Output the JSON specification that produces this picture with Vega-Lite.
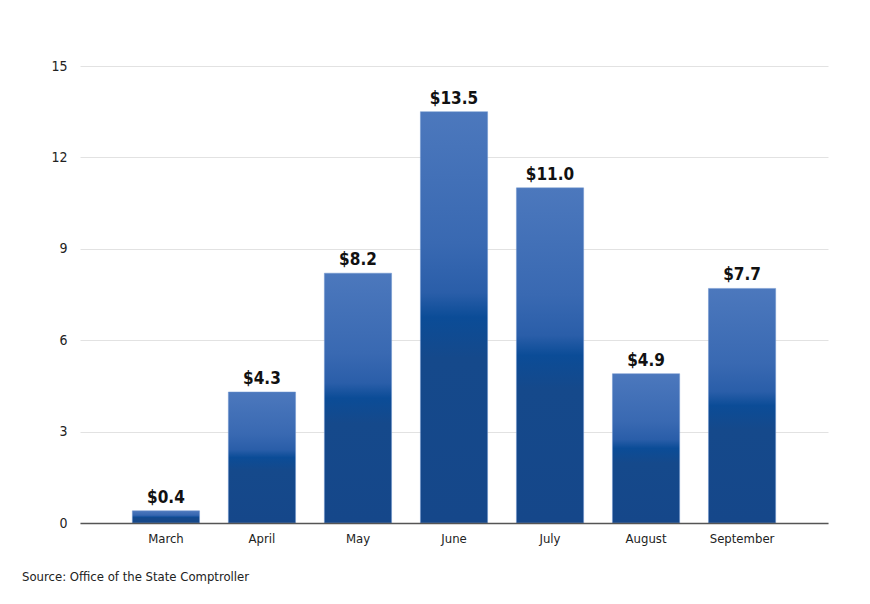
{
  "$schema": "https://vega.github.io/schema/vega-lite/v6.json",
  "width": 748,
  "height": 457,
  "autosize": {"type": "none"},
  "padding": {"left": 80, "top": 66, "right": 42, "bottom": 81},
  "background": "#ffffff",
  "config": {"view": {"stroke": null}},
  "title": {
    "text": "Source: Office of the State Comptroller",
    "orient": "bottom",
    "anchor": "start",
    "frame": "group",
    "dx": -58,
    "offset": 26,
    "font": "DejaVu Sans Condensed, Liberation Sans, sans-serif",
    "fontSize": 13,
    "fontWeight": "normal",
    "color": "#222222"
  },
  "data": {
    "values": [
      {"month": "March", "value": 0.4, "label": "$0.4"},
      {"month": "April", "value": 4.3, "label": "$4.3"},
      {"month": "May", "value": 8.2, "label": "$8.2"},
      {"month": "June", "value": 13.5, "label": "$13.5"},
      {"month": "July", "value": 11.0, "label": "$11.0"},
      {"month": "August", "value": 4.9, "label": "$4.9"},
      {"month": "September", "value": 7.7, "label": "$7.7"}
    ]
  },
  "encoding": {
    "x": {
      "field": "month",
      "type": "nominal",
      "sort": null,
      "scale": {"paddingInner": 0.3, "paddingOuter": 0.545},
      "axis": {
        "title": null,
        "labelAngle": 0,
        "ticks": false,
        "labelPadding": 9,
        "labelFont": "DejaVu Sans Condensed, Liberation Sans, sans-serif",
        "labelFontSize": 13,
        "labelColor": "#222222",
        "domainColor": "#555555",
        "domainWidth": 1.5,
        "zindex": 1
      }
    },
    "y": {
      "field": "value",
      "type": "quantitative",
      "scale": {"domain": [0, 15]},
      "axis": {
        "title": null,
        "values": [0, 3, 6, 9, 12, 15],
        "ticks": false,
        "domain": false,
        "labelPadding": 13,
        "labelFont": "DejaVu Sans Condensed, Liberation Sans, sans-serif",
        "labelFontSize": 14,
        "labelColor": "#222222",
        "gridColor": "#e2e2e2",
        "gridWidth": 1
      }
    }
  },
  "layer": [
    {
      "mark": {
        "type": "bar",
        "stroke": "#6e95cf",
        "strokeWidth": 0.5,
        "color": {
          "gradient": "linear",
          "x1": 0, "y1": 0, "x2": 0, "y2": 1,
          "stops": [
            {"offset": 0, "color": "#4c78bd"},
            {"offset": 0.32, "color": "#3969b2"},
            {"offset": 0.44, "color": "#2a5ea9"},
            {"offset": 0.5, "color": "#0b4c97"},
            {"offset": 0.6, "color": "#15498b"},
            {"offset": 1, "color": "#15478a"}
          ]
        }
      }
    },
    {
      "mark": {
        "type": "text",
        "baseline": "bottom",
        "dy": -4,
        "font": "DejaVu Sans Condensed, Liberation Sans, sans-serif",
        "fontSize": 17,
        "fontWeight": "bold",
        "color": "#111111"
      },
      "encoding": {"text": {"field": "label"}}
    }
  ]
}
